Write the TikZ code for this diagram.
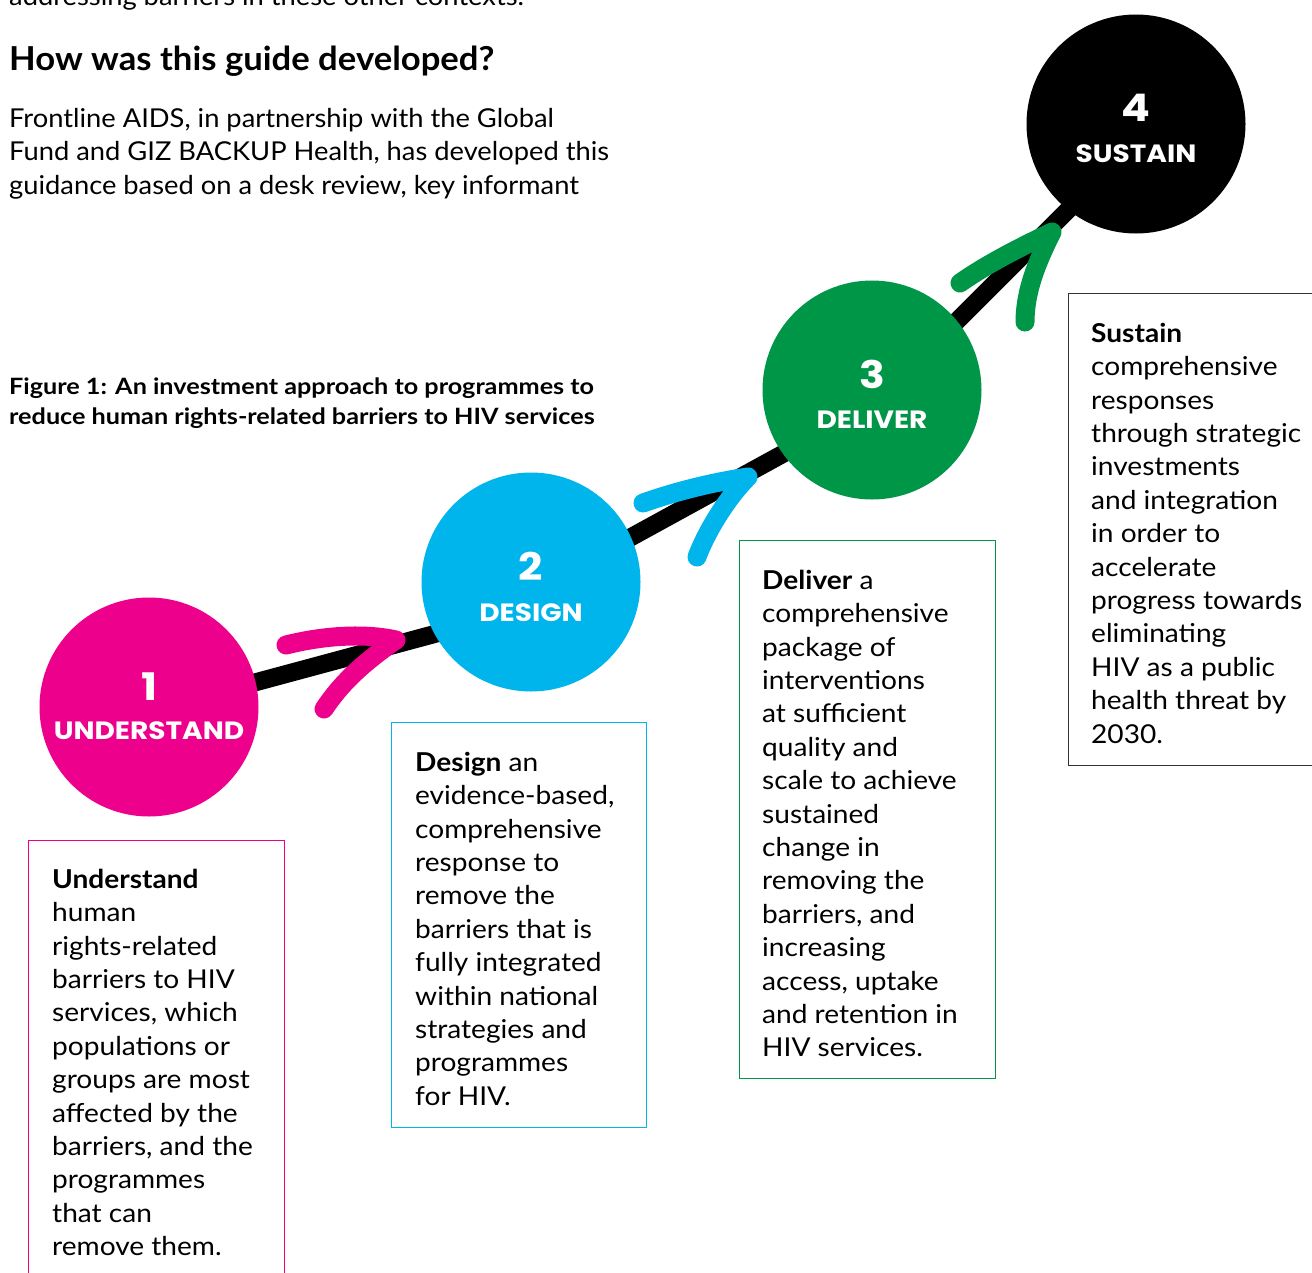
\documentclass[tikz,border=0pt]{standalone}
\usepackage{fontspec}
\setmainfont{Lato}[FakeStretch=1.08]
\newfontfamily\headfont{Lato}[FakeStretch=1.05]
\newfontfamily\capfont{Lato}[FakeStretch=1.12]
\newfontfamily\heavyfont{Poppins}[FakeStretch=1.12]
\usetikzlibrary{backgrounds,calc}
\definecolor{cpink}{RGB}{236,0,140}
\definecolor{cblue}{RGB}{0,180,236}
\definecolor{cgreen}{RGB}{0,150,72}
\definecolor{cgray}{RGB}{50,50,50}
\begin{document}
\begin{tikzpicture}[x=1pt,y=-1pt,
  stage/.style={circle, minimum size=219pt, inner sep=0pt, fill=#1},
  numlbl/.style={anchor=base, text=white, inner sep=0pt, font=\heavyfont\bfseries\fontsize{38}{38}\selectfont},
  namelbl/.style={anchor=base, text=white, inner sep=0pt, font=\heavyfont\bfseries\fontsize{25}{25}\selectfont},
  track/.style={line width=18pt, black},
  tick/.style={line width=19pt, line cap=round, line join=round, draw=#1},
  infobox/.style={draw=#1, line width=1.3pt, anchor=north west, inner sep=0pt},
  body/.style={anchor=north west, align=left, inner sep=0pt, font=\fontsize{26}{33.4}\selectfont},
  headtxt/.style={anchor=base west, inner sep=0pt, font=\headfont\bfseries\fontsize{33}{33}\selectfont},
  captxt/.style={anchor=north west, align=left, inner sep=0pt, font=\capfont\bfseries\fontsize{22.5}{30}\selectfont},
]
\useasboundingbox (0,0) rectangle (1312,1272);

% top text
\node[anchor=base west, inner sep=0pt, font=\headfont\fontsize{26}{33.4}\selectfont] (prev) at (9,5) {addressing barriers in these other contexts.};
\node[headtxt] (head) at (9,70) {How was this guide developed?};
\node[body, font=\headfont\fontsize{26}{33.4}\selectfont] (intro) at (9,103) {\rule{0pt}{24pt}Frontline AIDS, in partnership with the Global\\
Fund and GIZ BACKUP Health, has developed this\\
guidance based on a desk review, key informant};
\node[captxt] (cap) at (9,374) {\rule{0pt}{20pt}Figure 1: An investment approach to programmes to\\
reduce human rights-related barriers to HIV services};

% circles
\node[stage=cpink]  (c1) at (149,707) {};
\node[stage=cblue]  (c2) at (531,582) {};
\node[stage=cgreen] (c3) at (872,390) {};
\node[stage=black]  (c4) at (1136,124) {};

% track behind circles
\begin{scope}[on background layer]
  \draw[track] ($(c1.center)+(0,4)$) -- ($(c2.center)+(0,26)$);
  \draw[track] ($(c2.center)+(0,10)$) -- ($(c3.center)+(0,15)$);
  \draw[track] ($(c3.center)+(0,16)$) -- ($(c4.center)+(0,18)$);
\end{scope}

% circle labels
\node[numlbl]  (n1) at (149,700) {1};
\node[namelbl] (t1) at (149,739) {UNDERSTAND};
\node[numlbl]  (n2) at (531,580) {2};
\node[namelbl] (t2) at (531,621) {DESIGN};
\node[numlbl]  (n3) at (872,388) {3};
\node[namelbl] (t3) at (872,428) {DELIVER};
\node[numlbl]  (n4) at (1136,121) {4};
\node[namelbl] (t4) at (1136,162) {SUSTAIN};

% tick arrows
\coordinate (p1a) at (286,645);
\coordinate (p1b) at (396,640);
\coordinate (p1c) at (324,709);
\draw[tick=cpink] (p1a) .. controls (330,634) and (370,634) .. (p1b) .. controls (360,665) and (340,685) .. (p1c);
\coordinate (p2a) at (643,503);
\coordinate (p2b) at (748,477);
\coordinate (p2c) at (697,557);
\draw[tick=cblue] (p2a) .. controls (680,490) and (715,482) .. (p2b) .. controls (725,500) and (705,535) .. (p2c);
\coordinate (p3a) at (960,283);
\coordinate (p3b) at (1052,232);
\coordinate (p3c) at (1025,322);
\draw[tick=cgreen] (p3a) .. controls (990,262) and (1025,245) .. (p3b) .. controls (1038,260) and (1025,290) .. (p3c);

% info boxes
\node[infobox=cpink, minimum width=256pt, minimum height=460pt] (b1) at (28,840) {};
\node[infobox=cblue, minimum width=255pt, minimum height=405pt] (b2) at (391,722) {};
\node[infobox=cgreen, minimum width=256pt, minimum height=538pt] (b3) at (739,540) {};
\node[infobox=cgray, minimum width=270pt, minimum height=472pt] (b4) at (1068,293) {};

\node[body] (x1) at (52,864) {\rule{0pt}{24pt}\textbf{Understand}\\
human\\
rights-related\\
barriers to HIV\\
services, which\\
populations or\\
groups are most\\
affected by the\\
barriers, and the\\
programmes\\
that can\\
remove them.};

\node[body] (x2) at (415,747) {\rule{0pt}{24pt}\textbf{Design} an\\
evidence-based,\\
comprehensive\\
response to\\
remove the\\
barriers that is\\
fully integrated\\
within national\\
strategies and\\
programmes\\
for HIV.};

\node[body] (x3) at (762,565) {\rule{0pt}{24pt}\textbf{Deliver} a\\
comprehensive\\
package of\\
interventions\\
at sufficient\\
quality and\\
scale to achieve\\
sustained\\
change in\\
removing the\\
barriers, and\\
increasing\\
access, uptake\\
and retention in\\
HIV services.};

\node[body] (x4) at (1091,318) {\rule{0pt}{24pt}\textbf{Sustain}\\
comprehensive\\
responses\\
through strategic\\
investments\\
and integration\\
in order to\\
accelerate\\
progress towards\\
eliminating\\
HIV as a public\\
health threat by\\
2030.};
\end{tikzpicture}
\end{document}
